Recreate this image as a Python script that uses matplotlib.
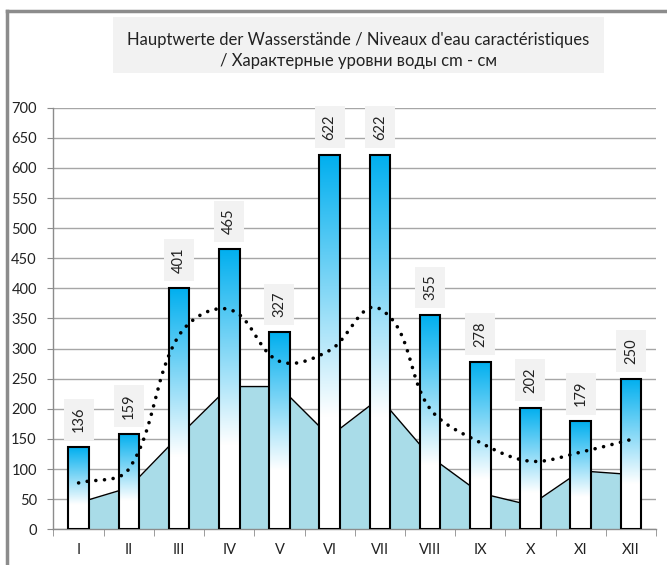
import matplotlib
matplotlib.use("Agg")
import matplotlib.pyplot as plt
import numpy as np
from matplotlib.colors import LinearSegmentedColormap
from matplotlib.patches import Rectangle
from matplotlib.lines import Line2D

plt.rcParams['font.family'] = ['Lato', 'DejaVu Sans']

months = ["I", "II", "III", "IV", "V", "VI", "VII", "VIII", "IX", "X", "XI", "XII"]
high_water = [136, 159, 401, 465, 327, 622, 622, 355, 278, 202, 179, 250]
mean_water = [77, 100, 322, 365, 279, 297, 366, 200, 144, 113, 128, 149]
low_water = [44, 69, 155, 237, 237, 154, 218, 121, 60, 40, 97, 91]
title = ("Hauptwerte der Wasserstände / Niveaux d'eau caractéristiques\n"
         "/ Характерные уровни воды cm - см")


def smooth(xs, ys, sx=50.2, sy=0.6023, n=30):
    # smoothed line: bezier segments, tangent length scaled by chord (in pixel space)
    p = np.column_stack([np.asarray(xs, float) * sx, np.asarray(ys, float) * sy])
    m = len(p)
    d = np.zeros_like(p)
    for i in range(m):
        a = p[max(i - 1, 0)]
        b = p[min(i + 1, m - 1)]
        v = b - a
        d[i] = v / np.hypot(*v)
    t = np.linspace(0, 1, n)[:, None]
    out = []
    for i in range(m - 1):
        L = np.hypot(*(p[i + 1] - p[i]))
        c1 = p[i] + d[i] * L / 3
        c2 = p[i + 1] - d[i + 1] * L / 3
        b = (1 - t) ** 3 * p[i] + 3 * (1 - t) ** 2 * t * c1 + 3 * (1 - t) * t ** 2 * c2 + t ** 3 * p[i + 1]
        out.append(b)
    out = np.vstack(out)
    return out[:, 0] / sx, out[:, 1] / sy


fig = plt.figure(figsize=(6.67, 5.65), dpi=100)
ax = fig.add_axes([0.0802, 0.0632, 0.9033, 0.7462])

x = np.arange(len(months))
ax.set_xlim(-0.5, len(months) - 0.5)
ax.set_ylim(0, 700)

# low water area
ax.fill_between(x, low_water, 0, color='#A9DCE8', zorder=2, lw=0)
ax.plot(x, low_water, color='black', lw=1, zorder=2.1)

# bars with gradient
cmap = LinearSegmentedColormap.from_list(
    'wb', [(0, 'white'), (0.3, 'white'), (0.65, '#7fd6f6'), (1, '#00AFEF')])
grad = np.linspace(0, 1, 256).reshape(-1, 1)
w = 0.41
bars = ax.bar(x, high_water, width=w, facecolor='none', edgecolor='black', lw=1.5, zorder=4)
for xi, h in zip(x, high_water):
    im = ax.imshow(grad, cmap=cmap, origin='lower', aspect='auto',
                   extent=[xi - w / 2, xi + w / 2, 0, h], zorder=3)
    im.set_clip_path(Rectangle((xi - w / 2, 0), w, h, transform=ax.transData))
    ax.annotate(str(h), (xi, h), xytext=(0, 15), textcoords='offset pixels',
                rotation=90, ha='center', va='bottom', fontsize=10.5, color='#222222',
                bbox=dict(boxstyle='square,pad=0.55', fc='#F2F2F2', ec='none'), zorder=6)

# mean water smoothed dotted line
sx, sy = smooth(x, mean_water)
ax.plot(sx, sy, color='black', lw=2.6, linestyle=(0, (0.01, 2.4)),
        dash_capstyle='round', zorder=5)

ax.set_yticks(np.arange(0, 701, 50))
ax.set_xticks(x)
ax.set_xticklabels(months)
ax.set_xticks(np.arange(-0.5, len(months), 1), minor=True)
ax.grid(axis='y', color='#A6A6A6', lw=1, zorder=0)
ax.set_axisbelow(True)
for s in ['top', 'right']:
    ax.spines[s].set_visible(False)
for s in ['left', 'bottom']:
    ax.spines[s].set_color('#8C8C8C')
    ax.spines[s].set_linewidth(1)
ax.tick_params(axis='y', length=4, color='#8C8C8C', pad=8, labelsize=10.5, labelcolor='#222222')
ax.tick_params(axis='x', which='major', length=0, pad=10, labelsize=10.5, labelcolor='#222222')
ax.tick_params(axis='x', which='minor', length=5, color='#8C8C8C')

fig.text(0.537, 0.911, title, ha='center', va='center', fontsize=12, color='#222222',
         linespacing=1.35)
fig.patches.append(Rectangle((113 / 667, 1 - 73 / 565), 491 / 667, 56 / 565,
                             transform=fig.transFigure, fc='#F2F2F2', ec='none', zorder=-1))

# outer frame (top and left visible)
fig.add_artist(Line2D([7 / 667, 1], [1 - 11 / 565, 1 - 11 / 565], color='#8C8C8C', lw=2.5))
fig.add_artist(Line2D([7 / 667, 7 / 667], [0, 1 - 11 / 565], color='#8C8C8C', lw=2.5))

fig.savefig('out.png', dpi=100)
